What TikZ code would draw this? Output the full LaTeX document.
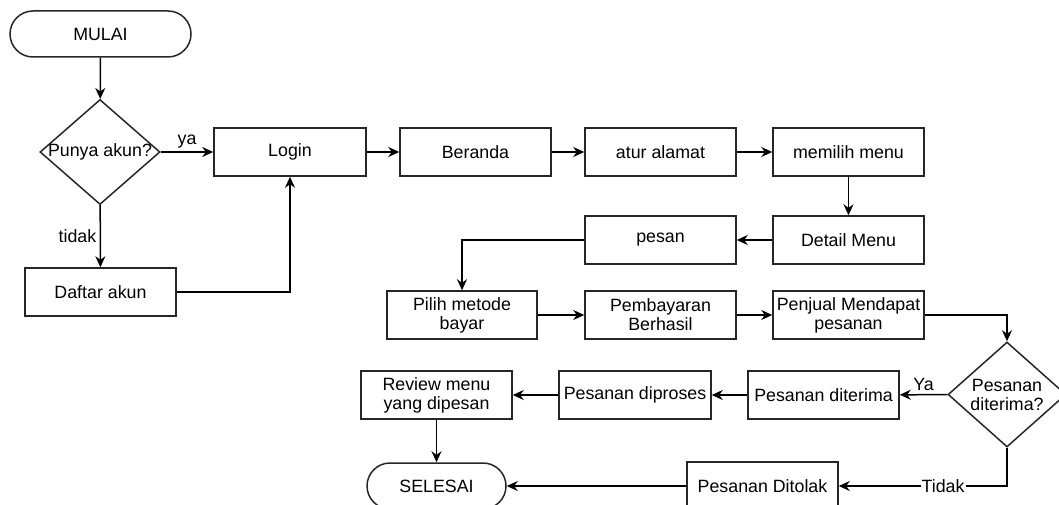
\documentclass[tikz,border=0pt]{standalone}
\usepackage{fontspec}
\setmainfont{Liberation Sans}
\usetikzlibrary{arrows.meta, shapes.geometric, positioning}
\tikzset{
  proses/.style={draw=black!85, rectangle, minimum width=151pt, minimum height=48pt, inner sep=1pt, align=center},
  terminal/.style={draw=black!85, rectangle, rounded corners=23pt, minimum width=181pt, minimum height=46pt},
  keputusan/.style={draw=black!85, diamond, minimum width=120pt, minimum height=105pt, inner sep=0pt},
}

\begin{document}
\begin{tikzpicture}[x=1pt, y=-1pt, >={Stealth[length=11pt, width=10pt]}, line width=1.5pt, font=\fontsize{17.8}{19}\selectfont]
\useasboundingbox (0,0) rectangle (1059,505);
\clip (0,0) rectangle (1059,505);
\node[terminal] (mulai) at (100.5,34) {MULAI};
\node[keputusan, label=center:{Punya akun?}] (akun) at (100,152) {};
\node[proses, minimum width=152pt] (login) at (290,152) {Login};
\node[proses] (daftar) at (100.5,292) {Daftar akun};
\node[proses] (beranda) at (475.5,152) {Beranda};
\node[proses] (alamat) at (660.5,152) {atur alamat};
\node[proses] (pilihmenu) at (848.5,152) {memilih menu};
\node[proses] (detail) at (848.5,240) {Detail Menu};
\node[proses] (pesan) at (660.5,240) {pesan};
\node[proses, minimum width=150pt] (bayar) at (462,315) {Pilih metode\\bayar};
\node[proses] (berhasil) at (660.5,315) {Pembayaran\\Berhasil};
\node[proses] (penjual) at (848.5,315) {Penjual Mendapat\\pesanan};
\node[keputusan, minimum width=118pt, label={[align=center]center:Pesanan\\diterima?}] (cek) at (1007,394.5) {};
\node[proses] (diterima) at (823.5,395) {Pesanan diterima};
\node[proses, minimum width=152pt] (diproses) at (635,395) {Pesanan diproses};
\node[proses] (review) at (436.5,395) {Review menu\\yang dipesan};
\node[terminal, minimum width=139pt] (selesai) at (436.5,486) {SELESAI};
\node[proses] (ditolak) at (762.5,486) {Pesanan Ditolak};
\draw[->] (mulai) -- (akun);
\draw[->] (akun) -- node[above]{ya} (login);
\draw[->] (akun) -- node[left]{tidak} (daftar);
\draw[->] (daftar) -| (login);
\draw[->] (login) -- (beranda);
\draw[->] (beranda) -- (alamat);
\draw[->] (alamat) -- (pilihmenu);
\draw[->] (pilihmenu) -- (detail);
\draw[->] (detail) -- (pesan);
\draw[->] (pesan) -| (bayar);
\draw[->] (bayar) -- (berhasil);
\draw[->] (berhasil) -- (penjual);
\draw[->] (penjual) -| (cek);
\draw[->] (cek) -- node[above]{Ya} (diterima);
\draw[->] (diterima) -- (diproses);
\draw[->] (diproses) -- (review);
\draw[->] (review) -- (selesai);
\draw[->] (cek) |- node[pos=0.69, fill=white, inner sep=1pt]{Tidak} (ditolak);
\draw[->] (ditolak) -- (selesai);
\end{tikzpicture}
\end{document}
